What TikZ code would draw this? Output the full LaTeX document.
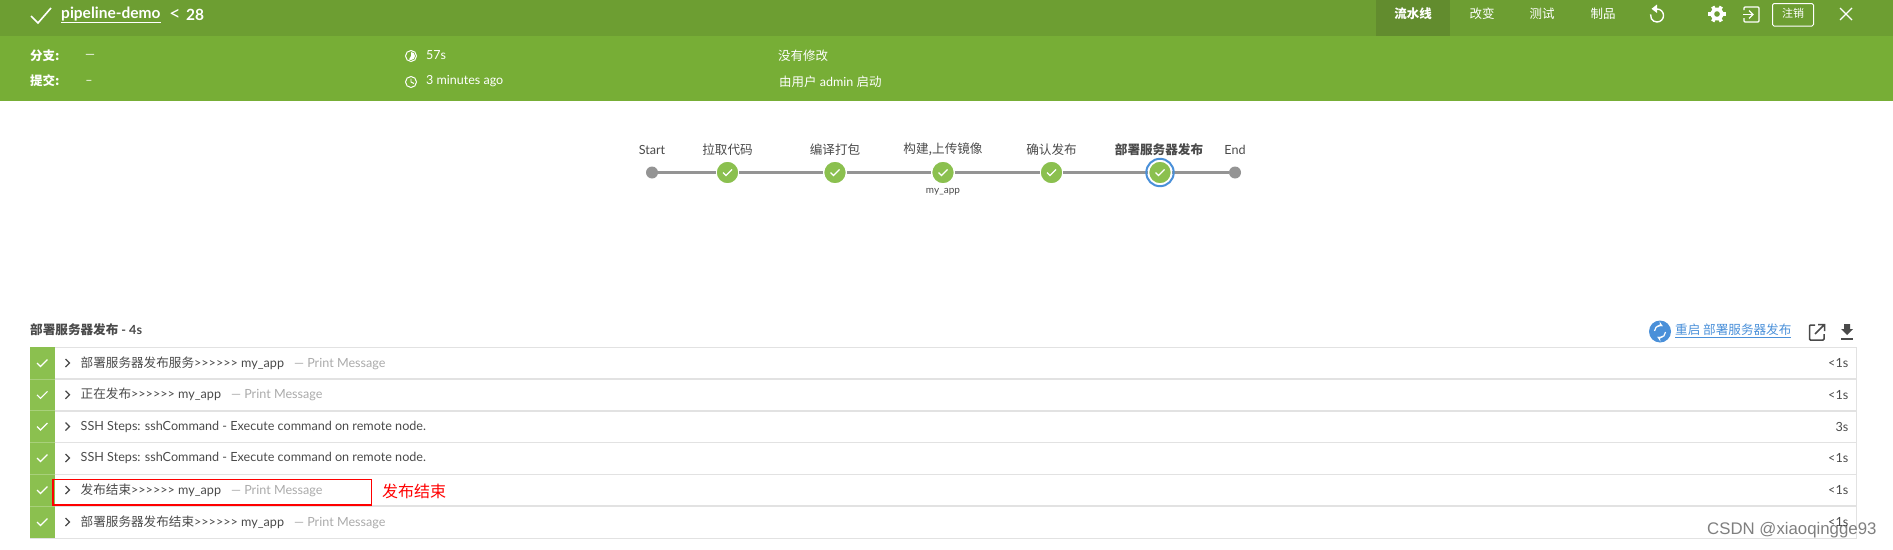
\documentclass[tikz,border=0pt]{standalone}
\usepackage{fontspec}
\usepackage{tikz}
\usetikzlibrary{calc}
\setmainfont{Lato}
\newfontfamily\cjk{Noto Sans CJK SC}
\newcommand{\cn}[1]{{\cjk #1}}
\newcommand{\gts}{>{}>{}>{}>{}>{}>}
\definecolor{topbar}{HTML}{6D9E32}
\definecolor{band}{HTML}{77AE36}
\definecolor{activetab}{HTML}{628C2E}
\definecolor{okgreen}{HTML}{8BC04F}
\definecolor{rowline}{HTML}{E2E2E2}
\definecolor{txtdark}{HTML}{4A4A4A}
\definecolor{txtgray}{HTML}{AAAAAA}
\definecolor{stagegray}{HTML}{949494}
\definecolor{linkblue}{HTML}{4A90D9}
\tikzset{
    whitetxt/.style={text=white, inner sep=0pt, font=\fontsize{12.5}{14}\selectfont},
    stagelbl/.style={text=txtdark, inner sep=0pt, font=\fontsize{12.6}{14}\selectfont},
    rowtxt/.style={anchor=west, text=txtdark, inner sep=0pt, font=\fontsize{12.6}{14}\selectfont},
    stage/.style={circle, fill=okgreen, draw=white, line width=2pt, minimum size=23.5pt, inner sep=0pt, outer sep=0pt},
    endpt/.style={circle, fill=stagegray, minimum size=12pt, inner sep=0pt},
    tick/.style={white, line width=1.1pt},
}
\begin{document}
\begin{tikzpicture}[x=1pt,y=-1pt]
    \useasboundingbox (0,0) rectangle (1893,549);
    % header
    \fill[topbar] (0,0) rectangle (1893,36);
    \fill[band] (0,36) rectangle (1893,101);
    \fill[activetab] (1376,0) rectangle (1450,36);
    \draw[white, line width=1.6pt] (31,16)--(38,23)--(51,8);
    \node[whitetxt, anchor=west, font=\fontsize{15.5}{16}\selectfont\bfseries] (title) at (61,15) {\underline{pipeline-demo}};
    \node[whitetxt, font=\fontsize{20}{20}\selectfont] (back) at (175,14.5) {<};
    \node[whitetxt, anchor=west, font=\fontsize{15.5}{16}\selectfont\bfseries] (build) at (186,15) {28};
    \node[whitetxt, font=\fontsize{12.5}{14}\selectfont\bfseries] (tabflow) at (1413,13.5) {\cn{流水线}};
    \node[whitetxt] (tabchg) at (1482,13.5) {\cn{改变}};
    \node[whitetxt] (tabtest) at (1542,13.5) {\cn{测试}};
    \node[whitetxt] (tabart) at (1603,13.5) {\cn{制品}};
    % reload
    \draw[white, line width=1.4pt] (1657,9) arc (-90:190:6.5);
    \fill[white] (1657,4.5)--(1657,13)--(1651.5,8.8)--cycle;
    % gear
    \fill[white] (1717,14) circle (6.5);
    \foreach \a in {0,60,...,300}
        \draw[white, line width=3.6pt] ($(1717,14)+(\a:5)$)--($(1717,14)+(\a:8.6)$);
    \fill[topbar] (1717,14) circle (2.8);
    % exit
    \draw[white, line width=1.2pt, rounded corners=1pt] (1744,10)--(1744,7)--(1759,7)--(1759,22)--(1744,22)--(1744,18);
    \draw[white, line width=1.2pt] (1743,14.5)--(1753,14.5);
    \draw[white, line width=1.2pt] (1749,10.5)--(1753,14.5)--(1749,18.5);
    \draw[white, line width=1pt, rounded corners=1.5pt] (1772.5,3.5) rectangle (1813.5,26);
    \node[whitetxt, font=\fontsize{11}{13}\selectfont] (logout) at (1793,13.5) {\cn{注销}};
    \draw[white, line width=1.3pt] (1840,8)--(1852,20) (1852,8)--(1840,20);
    % run info
    \node[whitetxt, anchor=west, font=\fontsize{12.5}{14}\selectfont\bfseries] (branchk) at (30,55.5) {\cn{分支:}};
    \node[whitetxt] (branchv) at (90,56) {—};
    \node[whitetxt, anchor=west, font=\fontsize{12.5}{14}\selectfont\bfseries] (commitk) at (30,81) {\cn{提交:}};
    \node[whitetxt] (commitv) at (89,82) {–};
    \draw[white, line width=1pt] (411,56) circle (5.5);
    \fill[white] (411,56) -- (411,52) arc (-90:120:4) -- cycle;
    \node[whitetxt, anchor=west] (dur) at (426,55.5) {57s};
    \draw[white, line width=1pt] (411,82) circle (5.5);
    \draw[white, line width=.9pt] (411,78.5)--(411,82)--(414,83.5);
    \node[whitetxt, anchor=west] (ago) at (426,81.5) {3 minutes ago};
    \node[whitetxt, anchor=west] (nochg) at (778,56) {\cn{没有修改}};
    \node[whitetxt, anchor=west] (bywho) at (779,81.5) {\cn{由用户} admin \cn{启动}};
    % pipeline
    \node[endpt] (s0) at (652,172.5) {};
    \node[endpt] (s6) at (1235,172.5) {};
    \foreach \i/\x in {1/727.5,2/835,3/943,4/1051.5,5/1160}
        \node[stage] (s\i) at (\x,172.5) {};
    \foreach \a/\b in {0/1,1/2,2/3,3/4,4/5,5/6}
        \draw[stagegray, line width=3.4pt] (s\a)--(s\b);
    \draw[linkblue, line width=2pt] (s5.center) circle (13.7);
    \foreach \i/\x in {1/727.5,2/835,3/943,4/1051.5,5/1160}
        \draw[tick] (\x-4.5,172.5)--(\x-1.5,175.5)--(\x+4.5,169.5);
    \node[stagelbl] (l0) at (652,149.5) {Start};
    \node[stagelbl] (l1) at (727.5,149.5) {\cn{拉取代码}};
    \node[stagelbl] (l2) at (835,149.5) {\cn{编译打包}};
    \node[stagelbl] (l3) at (943,149.5) {\cn{构建,上传镜像}};
    \node[stagelbl] (l4) at (1051.5,149.5) {\cn{确认发布}};
    \node[stagelbl, font=\fontsize{12.6}{14}\selectfont\bfseries] (l5) at (1159,149.5) {\cn{部署服务器发布}};
    \node[stagelbl] (l6) at (1235,149.5) {End};
    \node[stagelbl, font=\fontsize{10}{12}\selectfont] (tag) at (943,191.5) {my\_app};
    % steps
    \node[rowtxt, font=\fontsize{12.6}{14}\selectfont\bfseries] (steph) at (30,330) {\cn{部署服务器发布} - 4s};
    \fill[linkblue] (1660,331.5) circle (11);
    \draw[white, line width=1.2pt, ->, >=stealth] (1654.5,331) arc (180:300:5.5);
    \draw[white, line width=1.2pt, ->, >=stealth] (1665.5,332) arc (0:120:5.5);
    \node[rowtxt, text=linkblue] (relink) at (1675,331) {\underline{\cn{重启 部署服务器发布}}};
    \draw[txtdark, line width=1.5pt, rounded corners=1pt] (1815,325)--(1809.5,325)--(1809.5,340)--(1824,340)--(1824,334);
    \draw[txtdark, line width=1.5pt] (1815,334)--(1824,325) (1818,324.5)--(1824.5,324.5)--(1824.5,331);
    \fill[txtdark] (1844,324)--(1850,324)--(1850,329)--(1853,329)--(1847,335)--(1841,329)--(1844,329)--cycle;
    \fill[txtdark] (1841,337.5) rectangle (1853,339.5);
    \fill[okgreen] (30,347) rectangle (55,538);
    \foreach \y in {379,410.7,442.5,474.3,506} {
        \draw[rowline, line width=1.6pt] (55,\y)--(1856,\y);
        \draw[okgreen!75!white, line width=.8pt] (30,\y)--(55,\y);
    }
    \draw[rowline, line width=1pt] (55,347)--(1856,347)--(1856,538)--(30,538);
    \foreach \i/\y/\lbl/\msg/\dt in {
        1/363/{\cn{部署服务器发布服务}\gts{} my\_app}/{— Print Message}/{<1s},
        2/394.8/{\cn{正在发布}\gts{} my\_app}/{— Print Message}/{<1s},
        3/426.5/{SSH Steps: sshCommand - Execute command on remote node.}/{}/{3s},
        4/458/{SSH Steps: sshCommand - Execute command on remote node.}/{}/{<1s},
        5/490/{\cn{发布结束}\gts{} my\_app}/{— Print Message}/{<1s},
        6/522/{\cn{部署服务器发布结束}\gts{} my\_app}/{— Print Message}/{<1s}} {
        \draw[tick] (37,\y)--(40.5,\y+3.5)--(47.5,\y-3.5);
        \draw[txtdark, line width=1.3pt] (65.5,\y-4)--(69.5,\y)--(65.5,\y+4);
        \node[rowtxt] (t\i) at (80.5,\y) {\lbl\hspace{10pt}\textcolor{txtgray}{\msg}};
        \node[rowtxt, anchor=east] (d\i) at (1848.5,\y) {\dt};
    }
    % callout
    \draw[red, line width=1.8pt] (53.2,479.5) rectangle (371.5,505.3);
    \node[anchor=west, text=red, inner sep=0pt, font=\fontsize{16}{18}\selectfont] (note) at (382,491.5) {\cn{发布结束}};
    % watermark
    \node[anchor=west, inner sep=0pt, text=black, opacity=.5, font=\fontsize{16.8}{18}\fontspec{Liberation Sans}] (mark) at (1707,530) {CSDN @xiaoqingge93};
\end{tikzpicture}
\end{document}
